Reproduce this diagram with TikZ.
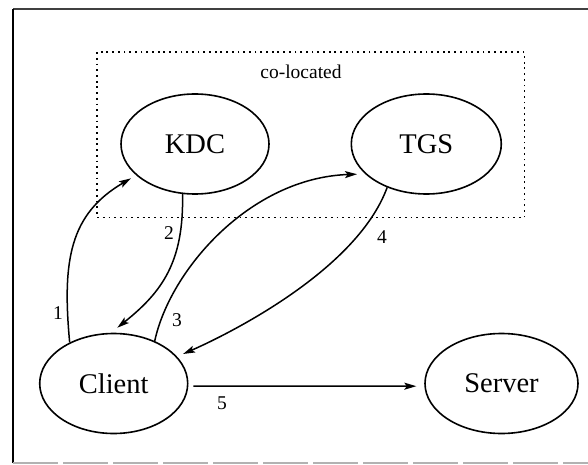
\documentclass[tikz,border=0pt]{standalone}
\usepackage{fontspec}
\setmainfont{Liberation Serif}
\usetikzlibrary{arrows.meta,shapes.geometric,calc}
\begin{document}
\begin{tikzpicture}[x=1pt,y=-1pt]
\tikzset{
  party/.style={ellipse, draw, line width=1.6pt, minimum width=148pt,
    minimum height=100pt, inner sep=0pt, font=\fontsize{28.5}{30}\selectfont},
  msg/.style={line width=1.5pt, -{Stealth[length=12pt,width=7pt,inset=2.5pt]}},
  num/.style={font=\fontsize{19.5}{21}\selectfont, inner sep=0pt},
  zone/.style={line width=1.8pt, dash pattern=on 1.8pt off 3.9pt},
}
\useasboundingbox (0,0) rectangle (588,465);

% page frame
\coordinate (fbl) at (13,463);
\coordinate (ftl) at (13,9);
\coordinate (ftr) at (588,9);
\coordinate (fbr) at (588,463);
\draw[black!75, line width=2.2pt] (ftl) -- (ftr);
\draw[line width=1.6pt] (fbl) -- (ftl);
\draw[black!30, line width=2.2pt, dash pattern=on 45pt off 5pt] (fbl) -- (fbr);

% co-located servers
\draw[zone] (97,52.3) rectangle (524.5,217.5);
\node[font=\fontsize{19.5}{21}\selectfont] (colo) at (301,72) {co-located};

% parties
\node[party] (kdc) at (195,144) {KDC};
\node[party, minimum width=150pt] (tgs) at (426.3,144) {TGS};
\node[party] (client) at (113.7,383.5) {Client};
\node[party, minimum width=153pt] (server) at (501.5,383.5) {Server};

% messages
\draw[msg, shorten >=6pt] (client.137) .. controls (62,260) and (70,214) .. (kdc.208);
\draw[msg, shorten >=8pt] (kdc.256) .. controls (184,262) and (162,292) .. (client.93);
\draw[msg, shorten >=8pt] (client.46) .. controls (170,270) and (250,178) .. (tgs.206);
\draw[msg, shorten >=6.5pt] (tgs.228) .. controls (355,275) and (215,340) .. (client.23);
\draw[msg, shorten <=5pt, shorten >=8pt] (client.-2) -- (server.182);

% message numbers
\node[num] (n1) at (58,313) {1};
\node[num] (n2) at (169,233) {2};
\node[num] (n3) at (177,320) {3};
\node[num] (n4) at (382,237) {4};
\node[num] (n5) at (222,403) {5};
\end{tikzpicture}
\end{document}
